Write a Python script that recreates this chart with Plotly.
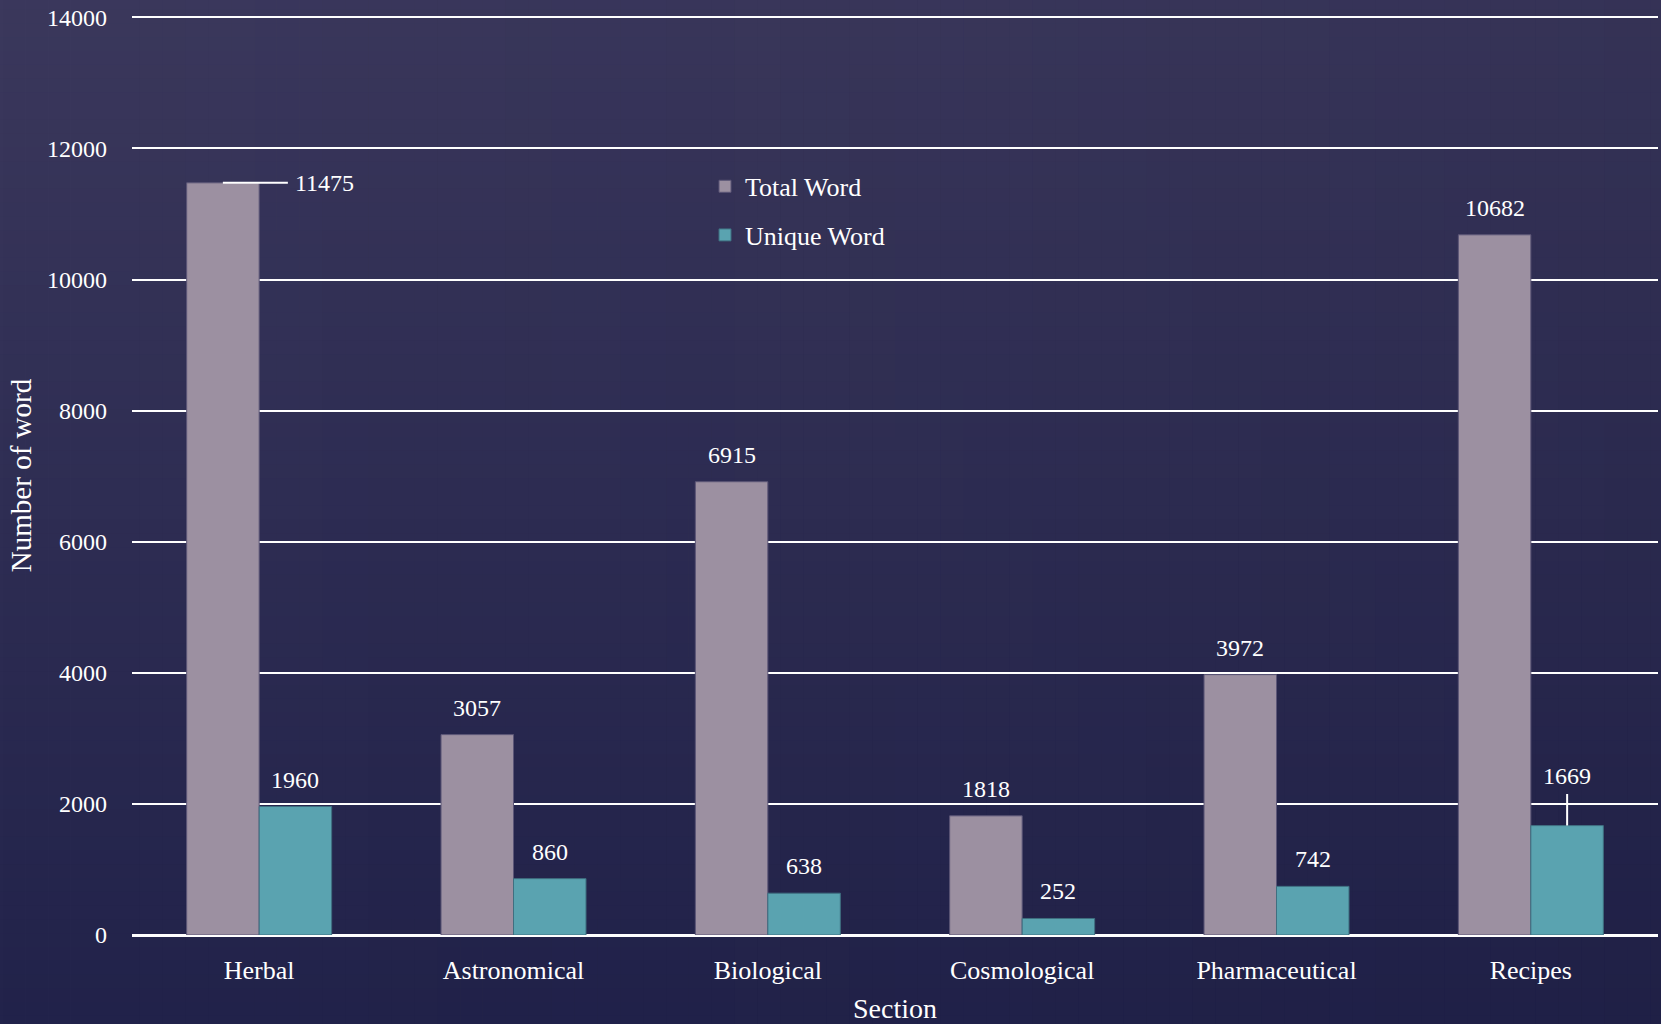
import plotly.graph_objects as go

# Word counts per manuscript section
sections = ["Herbal", "Astronomical", "Biological", "Cosmological", "Pharmaceutical", "Recipes"]
total_words = [11475, 3057, 6915, 1818, 3972, 10682]
unique_words = [1960, 860, 638, 252, 742, 1669]
y_ticks = [0, 2000, 4000, 6000, 8000, 10000, 12000, 14000]

FONT = "Palatino Linotype, Book Antiqua, Palatino, Liberation Serif, serif"
TOTAL_COLOR = "#9c90a1"
UNIQUE_COLOR = "#5aa3b0"
BAR_HALF_PX = 36.3  # half of one bar's width in pixels, used to offset labels

fig = go.Figure()
fig.add_trace(go.Bar(
    x=sections, y=total_words, name="Total Word",
    marker=dict(color=TOTAL_COLOR, line=dict(color="#5c5677", width=1)),
    legend="legend",
))
fig.add_trace(go.Bar(
    x=sections, y=unique_words, name="Unique Word",
    marker=dict(color=UNIQUE_COLOR, line=dict(color="#3f6f80", width=1)),
    legend="legend2",
))

# Background: vertical gradient plus a slight darkening towards the right
shapes = []
n_rows = 80
top_rgb = (60, 57, 93)
bot_rgb = (33, 34, 74)
for i in range(n_rows):
    t = i / (n_rows - 1)
    c = tuple(round(top_rgb[k] + (bot_rgb[k] - top_rgb[k]) * t) for k in range(3))
    shapes.append(dict(
        type="rect", xref="paper", yref="paper", layer="below",
        x0=-0.2, x1=1.2, y0=1.05 - (i + 1) / n_rows * 1.2, y1=1.05 - i / n_rows * 1.2 + 0.002,
        fillcolor="rgb(%d,%d,%d)" % c, line=dict(width=0),
    ))
n_cols = 80
for j in range(n_cols):
    t = j / (n_cols - 1)
    shapes.append(dict(
        type="rect", xref="paper", yref="paper", layer="below",
        x0=-0.1 + j / n_cols * 1.2, x1=-0.1 + (j + 1) / n_cols * 1.2,
        y0=-0.2, y1=1.2,
        fillcolor="rgba(10,10,40,%.3f)" % (0.12 * t), line=dict(width=0),
    ))

annotations = []
label_font = dict(family=FONT, size=24, color="#ffffff")
for i, s in enumerate(sections):
    # total word labels
    if i == 0:
        annotations.append(dict(
            x=s, y=total_words[i], xref="x", yref="y", xshift=-BAR_HALF_PX,
            text=str(total_words[i]), font=label_font,
            showarrow=True, arrowhead=0, arrowwidth=2, arrowcolor="#ffffff",
            ax=102, ay=0, startstandoff=6,
        ))
    else:
        annotations.append(dict(
            x=s, y=total_words[i], xref="x", yref="y", xshift=-BAR_HALF_PX,
            yshift=27, text=str(total_words[i]), font=label_font,
            showarrow=False, yanchor="middle",
        ))
    # unique word labels
    if i == len(sections) - 1:
        annotations.append(dict(
            x=s, y=unique_words[i], xref="x", yref="y", xshift=BAR_HALF_PX,
            text=str(unique_words[i]), font=label_font,
            showarrow=True, arrowhead=0, arrowwidth=2, arrowcolor="#ffffff",
            ax=0, ay=-50, startstandoff=4,
        ))
    else:
        annotations.append(dict(
            x=s, y=unique_words[i], xref="x", yref="y", xshift=BAR_HALF_PX,
            yshift=27, text=str(unique_words[i]), font=label_font,
            showarrow=False, yanchor="middle",
        ))

legend_style = dict(
    bgcolor="rgba(0,0,0,0)", font=dict(family=FONT, size=26, color="#ffffff"),
    xref="paper", yref="paper", xanchor="left", yanchor="middle",
)

fig.update_layout(
    width=1661, height=1024,
    margin=dict(l=132, r=3, t=16, b=89, autoexpand=False),
    paper_bgcolor="#2c2b52", plot_bgcolor="rgba(0,0,0,0)",
    font=dict(family=FONT, size=24, color="#ffffff"),
    barmode="group", bargap=0.43, bargroupgap=0,
    shapes=shapes, annotations=annotations,
    showlegend=True,
    legend=dict(x=0.3755, y=(934.5 - 187.5) / 917, **legend_style),
    legend2=dict(x=0.3755, y=(934.5 - 236) / 917, **legend_style),
    xaxis=dict(
        title=dict(text="Section", standoff=22, font=dict(size=28)),
        showgrid=False, showline=False, zeroline=False,
        tickfont=dict(size=26), ticks="", ticklabelstandoff=17,
        automargin=False,
    ),
    yaxis=dict(
        title=dict(text="Number of word", standoff=6, font=dict(size=29)),
        range=[0, 14020], tickvals=y_ticks, ticktext=[str(v) for v in y_ticks],
        showgrid=True, gridcolor="#ffffff", gridwidth=2,
        zeroline=True, zerolinecolor="#ffffff", zerolinewidth=2.5,
        showline=False, ticks="", ticklabelstandoff=24,
        tickfont=dict(size=24), automargin=False,
    ),
)

fig.write_html("out.html")
